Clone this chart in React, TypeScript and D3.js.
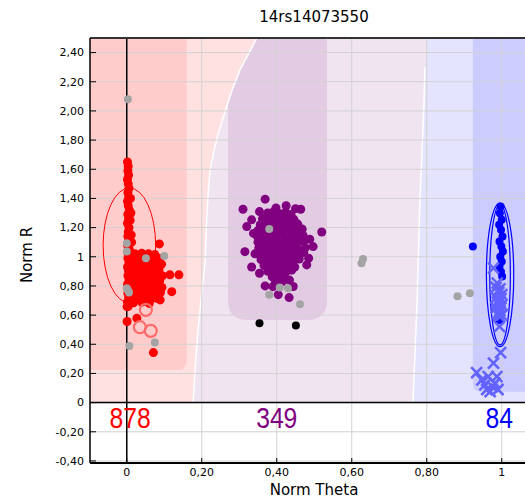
import React from 'react'
import * as d3 from 'd3'

const title = '14rs14073550'
const xTicks = [0, 0.2, 0.4, 0.6, 0.8, 1]
const xTickLabels = ['0', '0,20', '0,40', '0,60', '0,80', '1']
const yTicks = [-0.4, -0.2, 0, 0.2, 0.4, 0.6, 0.8, 1, 1.2, 1.4, 1.6, 1.8, 2, 2.2, 2.4]
const yTickLabels = ['-0,40', '-0,20', '0', '0,20', '0,40', '0,60', '0,80', '1', '1,20', '1,40', '1,60', '1,80', '2,00', '2,20', '2,40']

const clusterCounts = [878, 349, 84]
const countTheta = [0.009, 0.4, 0.993]
const countColors = ['#ff0000', '#800080', '#0000ff']

// cluster region outlines, [theta, R]
const redPurpleEdge = [
  [0.347, 2.5], [0.323, 2.384], [0.302, 2.281], [0.281, 2.144], [0.262, 1.994],
  [0.243, 1.836], [0.233, 1.733], [0.222, 1.596], [0.214, 1.321], [0.209, 0.958],
  [0.198, 0.704], [0.19, 0.499], [0.182, 0.225], [0.177, 0]
]
const purpleBlueEdge = [
  [0.801, 2.5], [0.795, 2.3], [0.793, 2.076], [0.789, 1.822], [0.782, 1.39], [0.774, 0.684],
  [0.769, 0.361], [0.763, 0]
]
const redCore = { theta: 0.16, r: 0.224 }
const purpleCore = { theta0: 0.27, theta1: 0.534, r: 0.567 }
const blueCore = { theta: 0.923, r: 0.075 }

// cluster ellipses [theta, R, rTheta, rR]
const redEllipse = [0.007, 1.078, 0.07, 0.394]
const blueEllipses = [
  [0.9955, 0.876, 0.0365, 0.492],
  [0.9955, 0.876, 0.0275, 0.48]
]

const redPoints = [
  [0.002, 1.65], [0.004, 1.62], [0.003, 1.59], [0.005, 1.56], [0.002, 1.53], [0.004, 1.5],
  [0.006, 1.47], [0.003, 1.44], [0.005, 1.41], [0.002, 1.38], [0.004, 1.35], [0.007, 1.32],
  [0.003, 1.29], [0.005, 1.26], [0.009, 1.25], [0.002, 1.23], [0.006, 1.2], [0.004, 1.17],
  [0.012, 1.15], [0.003, 1.14], [0.005, 1.11], [0.002, 1.08], [0.007, 1.05], [0.004, 1.02],
  [0.003, 0.99], [0.006, 0.96], [0.002, 0.93], [0.005, 0.9], [0.003, 0.87], [0.006, 0.84],
  [0.002, 0.81], [0.004, 0.78], [0.003, 0.75], [0.005, 0.72], [0.002, 0.69], [0.004, 0.66],
  [0.01, 1.4], [0.011, 1.3], [0.013, 1.1], [0.01, 0.97],
  [0.022, 1.02], [0.04, 1.025], [0.058, 1.02], [0.075, 1.015],
  [0.016, 0.985], [0.033, 0.99], [0.05, 0.98], [0.068, 0.985], [0.085, 0.99],
  [0.012, 0.95], [0.028, 0.945], [0.045, 0.955], [0.062, 0.95], [0.079, 0.945], [0.093, 0.95],
  [0.018, 0.91], [0.035, 0.915], [0.052, 0.905], [0.069, 0.91], [0.086, 0.915],
  [0.013, 0.87], [0.03, 0.875], [0.047, 0.865], [0.064, 0.87], [0.081, 0.875], [0.095, 0.87],
  [0.02, 0.83], [0.037, 0.835], [0.054, 0.825], [0.071, 0.83], [0.088, 0.835],
  [0.015, 0.79], [0.032, 0.795], [0.049, 0.785], [0.066, 0.79], [0.083, 0.795], [0.094, 0.79],
  [0.022, 0.75], [0.039, 0.755], [0.056, 0.745], [0.073, 0.75], [0.09, 0.755],
  [0.012, 0.715], [0.03, 0.71], [0.047, 0.72], [0.064, 0.71], [0.08, 0.715],
  [0.018, 0.685], [0.04, 0.69], [0.06, 0.68],
  [0.087, 1.088], [0.115, 0.876], [0.139, 0.876], [0.12, 0.761], [0.089, 0.704],
  [0.001, 0.658], [0.001, 0.556], [0.027, 0.579], [0.071, 0.343]
]
const redRings = [[0.051, 0.636], [0.035, 0.517], [0.064, 0.492]]

const purplePoints = [
  [0.376, 1.3], [0.392, 1.31], [0.408, 1.295], [0.424, 1.305], [0.438, 1.29],
  [0.362, 1.262], [0.38, 1.27], [0.396, 1.255], [0.414, 1.262], [0.43, 1.268], [0.446, 1.255],
  [0.356, 1.22], [0.372, 1.228], [0.388, 1.215], [0.406, 1.22], [0.424, 1.225], [0.44, 1.215], [0.456, 1.224],
  [0.35, 1.18], [0.366, 1.188], [0.384, 1.175], [0.402, 1.18], [0.42, 1.185], [0.438, 1.175], [0.454, 1.18], [0.468, 1.19],
  [0.348, 1.14], [0.364, 1.145], [0.382, 1.135], [0.4, 1.14], [0.418, 1.145], [0.436, 1.135], [0.454, 1.14], [0.47, 1.148],
  [0.35, 1.1], [0.366, 1.105], [0.384, 1.095], [0.402, 1.1], [0.42, 1.105], [0.438, 1.095], [0.456, 1.1], [0.472, 1.108],
  [0.352, 1.06], [0.366, 1.065], [0.382, 1.055], [0.4, 1.06], [0.418, 1.065], [0.436, 1.055], [0.454, 1.06], [0.476, 1.062],
  [0.354, 1.02], [0.37, 1.025], [0.388, 1.015], [0.406, 1.02], [0.424, 1.025], [0.442, 1.015], [0.458, 1.022], [0.472, 1.03],
  [0.358, 0.98], [0.374, 0.985], [0.392, 0.975], [0.41, 0.98], [0.428, 0.985], [0.446, 0.975], [0.46, 0.985],
  [0.366, 0.94], [0.382, 0.945], [0.398, 0.935], [0.416, 0.94], [0.434, 0.945], [0.448, 0.93],
  [0.376, 0.9], [0.392, 0.905], [0.408, 0.895], [0.426, 0.9], [0.44, 0.908],
  [0.388, 0.862], [0.404, 0.866], [0.422, 0.856], [0.434, 0.84],
  [0.396, 0.82], [0.414, 0.828], [0.39, 0.795],
  [0.31, 1.326], [0.369, 1.395], [0.425, 1.35], [0.464, 1.326], [0.52, 1.17], [0.497, 1.07],
  [0.315, 1.035], [0.333, 0.93], [0.354, 0.887], [0.369, 0.8], [0.404, 0.74], [0.433, 0.72],
  [0.444, 0.796], [0.48, 0.944], [0.32, 1.207], [0.333, 1.253], [0.354, 1.31],
  [0.342, 1.02], [0.488, 1.12], [0.485, 0.99], [0.338, 1.16], [0.45, 1.33], [0.398, 1.335]
]

const bluePoints = [
  [0.997, 1.344], [0.995, 1.299], [1.0, 1.253], [0.993, 1.219], [0.998, 1.185], [1.002, 1.139],
  [0.994, 1.104], [0.999, 1.07], [1.003, 1.036], [0.996, 1.001], [1.0, 0.967], [0.994, 0.933],
  [0.998, 0.898], [1.001, 0.864], [0.994, 0.567], [0.923, 1.07]
]
const blueCrosses = [
  [0.978, 0.922], [0.988, 0.819], [0.994, 0.521], [0.997, 0.343], [0.978, 0.27],
  [0.933, 0.206], [0.964, 0.178], [0.955, 0.121], [0.982, 0.133], [0.969, 0.075],
  [0.987, 0.178], [0.947, 0.156], [0.975, 0.11], [0.96, 0.09], [0.99, 0.09],
  [0.985, 0.79], [0.995, 0.78], [0.99, 0.765], [1.0, 0.74], [0.985, 0.72], [0.995, 0.7],
  [0.99, 0.68], [1.0, 0.67], [0.985, 0.65], [0.995, 0.63], [0.99, 0.61], [1.0, 0.6],
  [0.992, 0.755], [0.998, 0.715], [0.988, 0.69], [0.996, 0.655], [0.992, 0.595]
]

const grayPoints = [
  [0.003, 2.08], [0.0, 1.093], [0.0, 1.036], [0.051, 0.99], [0.1, 1.006], [0.0, 0.785],
  [0.006, 0.755], [0.003, 0.77], [0.007, 0.389], [0.075, 0.412], [0.38, 1.19], [0.38, 0.74],
  [0.408, 0.79], [0.43, 0.785], [0.462, 0.675], [0.626, 0.955], [0.63, 0.985],
  [0.882, 0.73], [0.915, 0.75]
]
const blackPoints = [[0.354, 0.545], [0.451, 0.528]]

export default function App() {
  const width = 525
  const height = 500
  const left = 90
  const right = 538.5
  const top = 38
  const bottom = 463

  const x = d3.scaleLinear().domain([-0.098, 1.098]).range([left, right])
  const y = d3.scaleLinear().domain([-0.414, 2.5]).range([bottom, top])
  const xMax = x.domain()[1]
  const rMax = y.domain()[1]

  const line = d3.line<number[]>().x(d => x(d[0])).y(d => y(d[1]))

  // light regions above zero
  const purpleArea = line([...redPurpleEdge, ...[...purpleBlueEdge].reverse()]) + 'Z'
  const blueArea = line([...purpleBlueEdge, [xMax, 0], [xMax, rMax]]) + 'Z'

  // dark cores with rounded corners
  const rx1 = x(redCore.theta), ry1 = y(redCore.r)
  const redCorePath = `M${left},${top}H${rx1}V${ry1 - 10}Q${rx1},${ry1} ${rx1 - 10},${ry1}H${left}Z`
  const px0 = x(purpleCore.theta0), px1 = x(purpleCore.theta1), py1 = y(purpleCore.r)
  const purpleCorePath = `M${px0},${top}H${px1}V${py1 - 20}Q${px1},${py1} ${px1 - 20},${py1}H${px0 + 20}Q${px0},${py1} ${px0},${py1 - 20}Z`
  const bx0 = x(blueCore.theta), by1 = y(blueCore.r)
  const blueCorePath = `M${right},${top}H${bx0}V${by1 - 8}Q${bx0},${by1} ${bx0 + 8},${by1}H${right}Z`

  const ell = (e: number[]) => ({
    cx: x(e[0]),
    cy: y(e[1]),
    rx: x(e[0] + e[2]) - x(e[0]),
    ry: y(e[1]) - y(e[1] + e[3])
  })

  const font = 'DejaVu Sans, sans-serif'

  return (
    <svg width={width} height={height} style={{ position: 'absolute', left: 0, top: 0, background: '#fff' }}>
      <defs>
        <clipPath id="plot">
          <rect x={left} y={top} width={right - left} height={bottom - top} />
        </clipPath>
        <clipPath id="purple-zone">
          <path d={purpleArea} />
        </clipPath>
      </defs>

      <text x={314} y={22} textAnchor="middle" fontFamily={font} fontSize={15} fill="#000">{title}</text>

      <g clipPath="url(#plot)">
        <rect x={left} y={top} width={right - left} height={y(0) - top} fill="#ffe1e1" />
        <path d={purpleArea} fill="#f0e4f0" />
        <path d={blueArea} fill="#e4e4fe" />
        <path d={redCorePath} fill="#ffcccc" />
        <path d={purpleCorePath} fill="#e3cce3" clipPath="url(#purple-zone)" />
        <path d={blueCorePath} fill="#ccccff" />
        <path d={line(redPurpleEdge) || ''} fill="none" stroke="#fff" strokeWidth={1.5} />
        <path d={line(purpleBlueEdge.slice(1)) || ''} fill="none" stroke="#fff" strokeWidth={1.5} />

        {yTicks.map(t => (
          <line key={'gy' + t} x1={left} x2={right} y1={y(t)} y2={y(t)} stroke="#d2d2d2" />
        ))}
        {xTicks.map(t => (
          <line key={'gx' + t} x1={x(t)} x2={x(t)} y1={top} y2={bottom} stroke="#d2d2d2" />
        ))}

        <line x1={left} x2={right} y1={y(0)} y2={y(0)} stroke="#000" strokeWidth={1.5} />
        <line x1={x(0)} x2={x(0)} y1={top} y2={bottom} stroke="#000" strokeWidth={1.5} />

        <ellipse {...ell(redEllipse)} fill="none" stroke="#ff0000" strokeWidth={1} />
        {blueEllipses.map((e, i) => (
          <ellipse key={'be' + i} {...ell(e)} fill="none" stroke="#0000ff" strokeWidth={1.2} />
        ))}

        {redPoints.map((d, i) => (
          <circle key={'r' + i} cx={x(d[0])} cy={y(d[1])} r={4.5} fill="#ff0000" />
        ))}
        {purplePoints.map((d, i) => (
          <circle key={'p' + i} cx={x(d[0])} cy={y(d[1])} r={4.5} fill="#800080" />
        ))}
        {bluePoints.map((d, i) => (
          <circle key={'b' + i} cx={x(d[0])} cy={y(d[1])} r={4} fill="#0000ff" />
        ))}
        {grayPoints.map((d, i) => (
          <circle key={'g' + i} cx={x(d[0])} cy={y(d[1])} r={4} fill="#a4a4a4" />
        ))}
        {blackPoints.map((d, i) => (
          <circle key={'k' + i} cx={x(d[0])} cy={y(d[1])} r={4} fill="#000" />
        ))}
        {redRings.map((d, i) => (
          <circle key={'o' + i} cx={x(d[0])} cy={y(d[1])} r={6} fill="none" stroke="#ff6a6a" strokeWidth={2.2} />
        ))}
        {blueCrosses.map((d, i) => {
          const cx = x(d[0]), cy = y(d[1]), s = 5.5
          return (
            <path key={'x' + i} d={`M${cx - s},${cy - s}L${cx + s},${cy + s}M${cx - s},${cy + s}L${cx + s},${cy - s}`}
              stroke="#6262ff" strokeWidth={2.5} fill="none" />
          )
        })}

        {clusterCounts.map((c, i) => (
          <text key={'c' + i} transform={`translate(${x(countTheta[i])},${y(0) + 25}) scale(0.95,1.1)`} textAnchor="middle"
            fontFamily="Liberation Sans, Arial, sans-serif" fontSize={26} fill={countColors[i]}>{c}</text>
        ))}
      </g>

      {/* frame */}
      <line x1={left} x2={right} y1={top} y2={top} stroke="#333" strokeWidth={2} />
      <line x1={left} x2={left} y1={top} y2={bottom} stroke="#000" strokeWidth={1.5} />
      <line x1={left} x2={right} y1={bottom} y2={bottom} stroke="#000" strokeWidth={2} />

      {yTicks.map((t, i) => (
        <g key={'ty' + t}>
          <line x1={left} x2={left + 6} y1={y(t)} y2={y(t)} stroke="#000" />
          <text x={84} y={y(t)} dy="0.35em" textAnchor="end" fontFamily={font} fontSize={11} fill="#000">{yTickLabels[i]}</text>
        </g>
      ))}
      {xTicks.map((t, i) => (
        <g key={'tx' + t}>
          <line x1={x(t)} x2={x(t)} y1={bottom} y2={bottom - 5} stroke="#000" />
          <text x={x(t)} y={476} textAnchor="middle" fontFamily={font} fontSize={11} fill="#000">{xTickLabels[i]}</text>
        </g>
      ))}

      <text x={314} y={495} textAnchor="middle" fontFamily={font} fontSize={15} fill="#000">Norm Theta</text>
      <text transform="translate(32,255) rotate(-90)" textAnchor="middle" fontFamily={font} fontSize={15} fill="#000">Norm R</text>
    </svg>
  )
}
